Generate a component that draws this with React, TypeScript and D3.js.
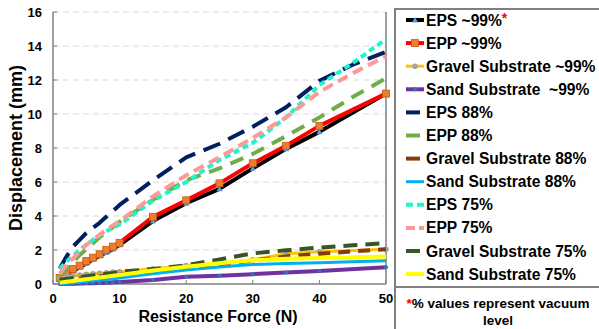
import React from "react";
import * as d3 from "d3";

const xs99 = [1, 2, 3, 4, 5, 6, 7, 8, 9, 10, 15, 20, 25, 30, 35, 40, 50];
const xsAll = [1, 2, 3, 4, 5, 6, 7, 8, 9, 10, 15, 20, 25, 30, 35, 40, 45, 50];

const eps99 = [0.25, 0.5, 0.75, 1.0, 1.2, 1.45, 1.65, 1.85, 2.05, 2.3, 3.7, 4.75, 5.6, 6.8, 7.95, 8.95, 11.2];
const epp99 = [0.35, 0.6, 0.88, 1.08, 1.35, 1.55, 1.75, 2.0, 2.2, 2.42, 3.95, 4.92, 5.92, 7.1, 8.13, 9.3, 11.2];
const gravel99 = [0.35, 0.42, 0.48, 0.52, 0.57, 0.6, 0.63, 0.66, 0.7, 0.72, 0.9, 1.08, 1.22, 1.42, 1.78, 1.9, 2.04];
const sand99 = [0.0, 0.01, 0.02, 0.03, 0.04, 0.05, 0.06, 0.08, 0.1, 0.12, 0.24, 0.42, 0.48, 0.58, 0.68, 0.76, 0.98];

const eps88 = [0.9, 1.6, 2.2, 2.6, 3.0, 3.3, 3.6, 3.95, 4.3, 4.65, 6.1, 7.45, 8.25, 9.25, 10.4, 11.95, 12.9, 13.65];
const epp88 = [0.45, 0.9, 1.3, 1.7, 2.05, 2.4, 2.75, 3.05, 3.35, 3.65, 4.95, 6.1, 6.8, 7.65, 8.7, 9.8, 11.0, 12.1];
const gravel88 = [0.2, 0.25, 0.3, 0.33, 0.37, 0.4, 0.44, 0.48, 0.52, 0.55, 0.75, 0.95, 1.15, 1.38, 1.62, 1.78, 1.92, 2.05];
const sand88 = [0.02, 0.05, 0.08, 0.11, 0.15, 0.19, 0.23, 0.27, 0.31, 0.35, 0.6, 0.82, 1.0, 1.15, 1.2, 1.25, 1.31, 1.37];

const eps75 = [0.9, 1.3, 1.65, 2.0, 2.3, 2.6, 2.85, 3.1, 3.3, 3.5, 4.9, 6.0, 7.3, 8.3, 9.8, 11.7, 13.0, 14.4];
const epp75 = [0.6, 1.1, 1.5, 1.9, 2.3, 2.6, 2.9, 3.2, 3.45, 3.7, 5.15, 6.4, 7.45, 8.6, 9.8, 11.3, 12.4, 13.4];
const gravel75 = [0.25, 0.3, 0.35, 0.4, 0.45, 0.5, 0.55, 0.6, 0.65, 0.72, 0.88, 1.1, 1.45, 1.8, 1.98, 2.14, 2.28, 2.4];
const sand75 = [0.08, 0.13, 0.18, 0.23, 0.28, 0.33, 0.38, 0.43, 0.48, 0.53, 0.8, 1.02, 1.22, 1.4, 1.48, 1.53, 1.57, 1.62];

const xTicks = [0, 10, 20, 30, 40, 50];
const yTicks = [0, 2, 4, 6, 8, 10, 12, 14, 16];

type Series = {
  name: string;
  xs: number[];
  ys: number[];
  color: string;
  width: number;
  dash?: string;
  legDash?: string;
  marker?: "triangle" | "square" | "circle" | "dot";
  markerColor?: string;
  star?: boolean;
};

const series: Series[] = [
  { name: "EPS ~99%", xs: xs99, ys: eps99, color: "#000000", width: 4, marker: "triangle", markerColor: "#5B9BD5", star: true },
  { name: "EPP ~99%", xs: xs99, ys: epp99, color: "#FF0000", width: 4, marker: "square", markerColor: "#ED7D31" },
  { name: "Gravel Substrate ~99%", xs: xs99, ys: gravel99, color: "#FFC000", width: 3, marker: "circle", markerColor: "#A5A5A5" },
  { name: "Sand Substrate  ~99%", xs: xs99, ys: sand99, color: "#7030A0", width: 4, marker: "dot", markerColor: "#2E75B6" },
  { name: "EPS 88%", xs: xsAll, ys: eps88, color: "#002060", width: 4, dash: "18,9", legDash: "14,4" },
  { name: "EPP 88%", xs: xsAll, ys: epp88, color: "#70AD47", width: 4, dash: "14,9", legDash: "14,4" },
  { name: "Gravel Substrate 88%", xs: xsAll, ys: gravel88, color: "#843C0C", width: 4, dash: "12,8", legDash: "14,4" },
  { name: "Sand Substrate 88%", xs: xsAll, ys: sand88, color: "#00B0F0", width: 3 },
  { name: "EPS 75%", xs: xsAll, ys: eps75, color: "#1DF5C8", width: 4, dash: "6,4", legDash: "7,4" },
  { name: "EPP 75%", xs: xsAll, ys: epp75, color: "#FF9999", width: 4, dash: "11,6", legDash: "9,4" },
  { name: "Gravel Substrate 75%", xs: xsAll, ys: gravel75, color: "#375623", width: 4, dash: "14,8", legDash: "14,4" },
  { name: "Sand Substrate 75%", xs: xsAll, ys: sand75, color: "#FFFF00", width: 4 },
];

const FONT = "'Liberation Sans', Arial, sans-serif";

export default function App() {
  const W = 599, H = 329;
  const left = 53, right = 386, top = 12, bottom = 284;
  const x = d3.scaleLinear().domain([0, 50]).range([left, right]);
  const y = d3.scaleLinear().domain([0, 16]).range([bottom, top]);

  const lineGen = d3
    .line<[number, number]>()
    .x((d) => x(d[0]))
    .y((d) => y(d[1]));

  const marker = (s: Series, px: number, py: number, key: string) => {
    if (!s.marker) return null;
    if (s.marker === "triangle") {
      const r = 3;
      return (
        <path key={key} d={`M${px},${py - r} L${px + r},${py + r * 0.8} L${px - r},${py + r * 0.8} Z`} fill={s.markerColor} />
      );
    }
    if (s.marker === "square") {
      return <rect key={key} x={px - 3.5} y={py - 3.5} width={7} height={7} fill={s.markerColor} stroke="#C55A11" strokeWidth={0.8} />;
    }
    if (s.marker === "circle") {
      return <circle key={key} cx={px} cy={py} r={2.8} fill={s.markerColor} />;
    }
    return <circle key={key} cx={px} cy={py} r={2} fill={s.markerColor} />;
  };

  const legX = 395;
  const legRowY = (i: number) => 20 + i * 23.1;

  return (
    <svg width={W} height={H} style={{ position: "absolute", left: 0, top: 0, background: "#fff" }}>
      {/* gridlines */}
      {yTicks.filter((t) => t > 0).map((t) => (
        <line key={"g" + t} x1={left} x2={right} y1={y(t)} y2={y(t)} stroke="#D9D9D9" strokeWidth={1.2} strokeDasharray="6,4" />
      ))}
      {/* axes */}
      <line x1={left} x2={left} y1={top} y2={bottom} stroke="#808080" strokeWidth={1.5} />
      <line x1={left} x2={right} y1={bottom} y2={bottom} stroke="#808080" strokeWidth={1.5} />
      <line x1={right} x2={right} y1={top} y2={bottom} stroke="#808080" strokeWidth={1.5} />
      {yTicks.map((t) => (
        <line key={"yt" + t} x1={left} x2={left + 4} y1={y(t)} y2={y(t)} stroke="#808080" strokeWidth={1} />
      ))}
      {xTicks.map((t) => (
        <line key={"xt" + t} x1={x(t)} x2={x(t)} y1={bottom} y2={bottom - 4} stroke="#808080" strokeWidth={1} />
      ))}

      {/* series */}
      {series.map((s, i) => {
        const pts = s.xs.map((xv, j) => [xv, s.ys[j]] as [number, number]);
        return (
          <g key={"s" + i}>
            <path
              d={lineGen(pts) || ""}
              fill="none"
              stroke={s.color}
              strokeWidth={s.width}
              strokeDasharray={s.dash}
              strokeLinecap="butt"
              strokeLinejoin="round"
            />
            {pts.map((p, j) => marker(s, x(p[0]), y(p[1]), `m${i}-${j}`))}
          </g>
        );
      })}

      {/* tick labels */}
      {yTicks.map((t) => (
        <text key={"yl" + t} x={42} y={y(t) + 4.5} textAnchor="end" fontFamily={FONT} fontWeight="bold" fontSize={13} fill="#000">
          {t}
        </text>
      ))}
      {xTicks.map((t) => (
        <text key={"xl" + t} x={x(t)} y={303} textAnchor="middle" fontFamily={FONT} fontWeight="bold" fontSize={13} fill="#000">
          {t}
        </text>
      ))}

      {/* axis titles */}
      <text x={218} y={322} textAnchor="middle" fontFamily={FONT} fontWeight="bold" fontSize={16} fill="#000">
        Resistance Force (N)
      </text>
      <text
        transform={`translate(22,148) rotate(-90)`}
        textAnchor="middle"
        fontFamily={FONT}
        fontWeight="bold"
        fontSize={18}
        fill="#000"
      >
        Displacement (mm)
      </text>

      {/* legend box */}
      <rect x={legX} y={9} width={W - legX + 10} height={278} fill="#fff" stroke="#7F7F7F" strokeWidth={2} />
      {series.map((s, i) => {
        const cy = legRowY(i);
        return (
          <g key={"l" + i}>
            <line
              x1={406}
              x2={424}
              y1={cy}
              y2={cy}
              stroke={s.color}
              strokeWidth={s.width}
              strokeDasharray={s.legDash}
              strokeLinecap="butt"
            />
            {s.marker ? marker(s, 415, cy, "lm" + i) : null}
            <text x={426} y={cy + 5.5} fontFamily={FONT} fontWeight="bold" fontSize={15.6} fill="#000" style={{ whiteSpace: "pre" }}>
              {s.name}
              {s.star ? (
                <tspan fill="#FF0000" dy={-3} fontSize={14}>
                  *
                </tspan>
              ) : null}
            </text>
          </g>
        );
      })}

      {/* footnote box */}
      <rect x={legX} y={287} width={W - legX + 10} height={60} fill="#fff" stroke="#7F7F7F" strokeWidth={2} />
      <text x={498} y={308} textAnchor="middle" fontFamily={FONT} fontWeight="bold" fontSize={13.5} fill="#000">
        <tspan fill="#FF0000">*</tspan>% values represent vacuum
      </text>
      <text x={498} y={325} textAnchor="middle" fontFamily={FONT} fontWeight="bold" fontSize={13.5} fill="#000">
        level
      </text>
    </svg>
  );
}
